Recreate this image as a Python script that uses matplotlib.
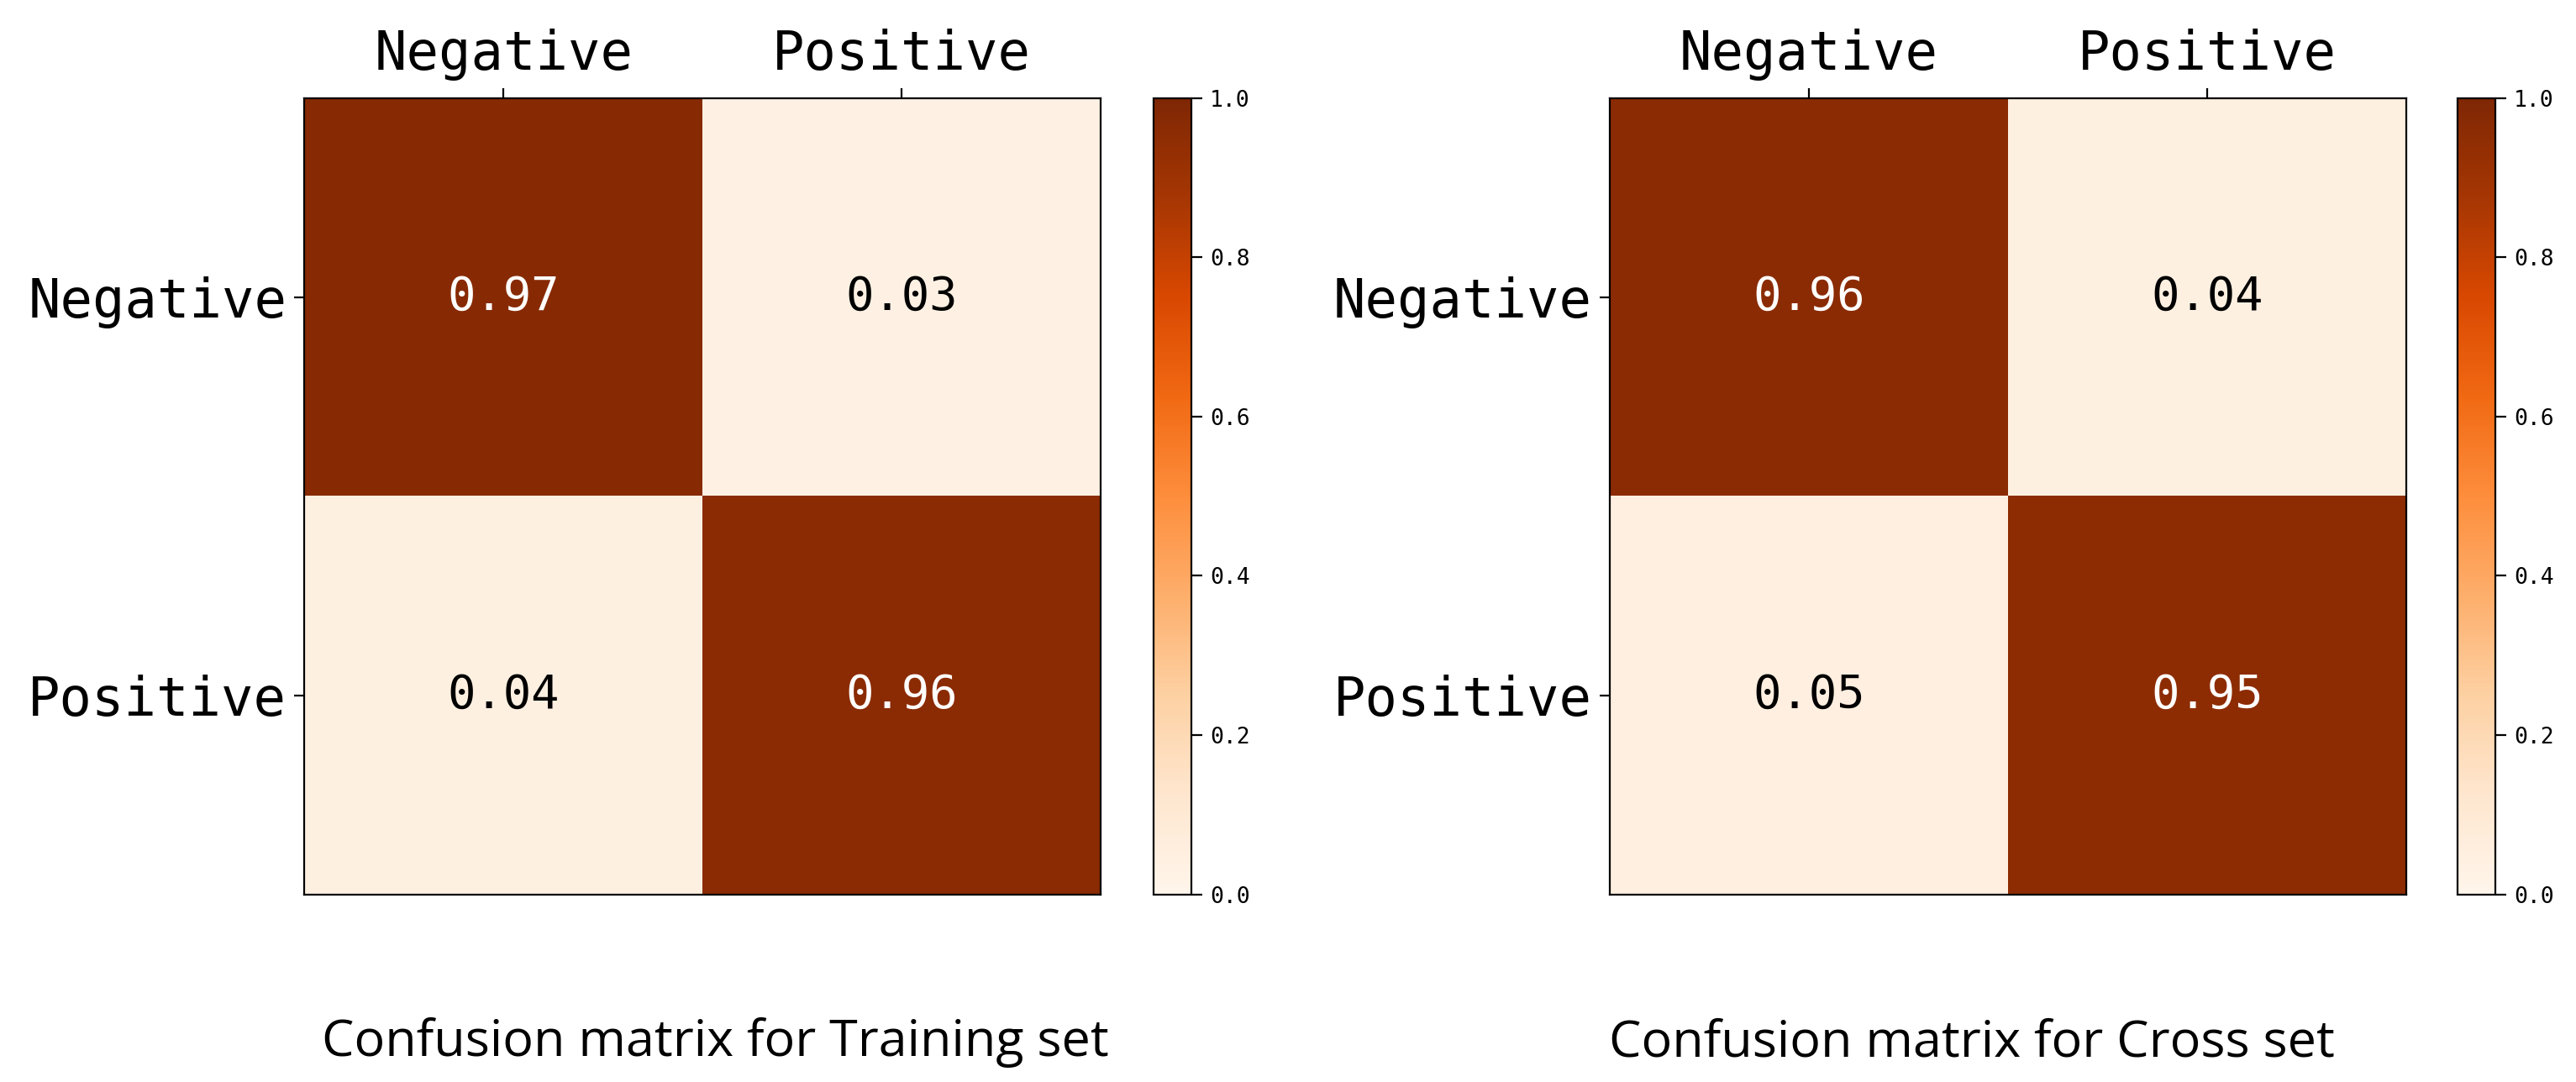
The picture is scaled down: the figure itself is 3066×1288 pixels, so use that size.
import numpy as np
import matplotlib
matplotlib.use("Agg")
import matplotlib.pyplot as plt

# 混同行列のデータ
labels = ["Negative", "Positive"]
cm_train = [[0.97, 0.03],
            [0.04, 0.96]]
cm_cross = [[0.96, 0.04],
            [0.05, 0.95]]
titles = ["Confusion matrix for Training set", "Confusion matrix for Cross set"]

W, H = 3066, 1288
dpi = 200
fig = plt.figure(figsize=(W / dpi, H / dpi), dpi=dpi)

tick_font = "DejaVu Sans Mono"
title_font = ["Open Sans", "DejaVu Sans"]

# 軸の位置 (figure 座標)
ax_pos = [[0.1181, 0.1735, 0.3093, 0.7357], [0.6249, 0.1735, 0.3093, 0.7357]]
cb_pos = [[0.4478, 0.1735, 0.0147, 0.7357], [0.9540, 0.1735, 0.0147, 0.7357]]
title_x = [0.2776, 0.7656]

for k, cm in enumerate([cm_train, cm_cross]):
    cm = np.array(cm)
    ax = fig.add_axes(ax_pos[k])
    im = ax.imshow(cm, cmap="Oranges", vmin=0, vmax=1, aspect="auto")
    ax.set_xticks(range(len(labels)))
    ax.set_yticks(range(len(labels)))
    ax.set_xticklabels(labels, fontsize=23, family=tick_font)
    ax.set_yticklabels(labels, fontsize=23, family=tick_font)
    ax.xaxis.tick_top()
    ax.tick_params(length=4.5, width=0.8, pad=3)
    for i in range(cm.shape[0]):
        for j in range(cm.shape[1]):
            c = "white" if cm[i, j] > 0.5 else "black"
            ax.text(j, i, "%.2f" % cm[i, j], ha="center", va="center",
                    color=c, fontsize=20, family=tick_font)

    cax = fig.add_axes(cb_pos[k])
    cb = fig.colorbar(im, cax=cax, ticks=[0, 0.2, 0.4, 0.6, 0.8, 1.0])
    cb.ax.tick_params(labelsize=9.5, length=4.5, width=0.8)
    for t in cb.ax.get_yticklabels():
        t.set_family(tick_font)

    fig.text(title_x[k], 0.024, titles[k], ha="center", va="baseline",
             fontsize=22, family=title_font)

fig.savefig("out.png", dpi=dpi)
